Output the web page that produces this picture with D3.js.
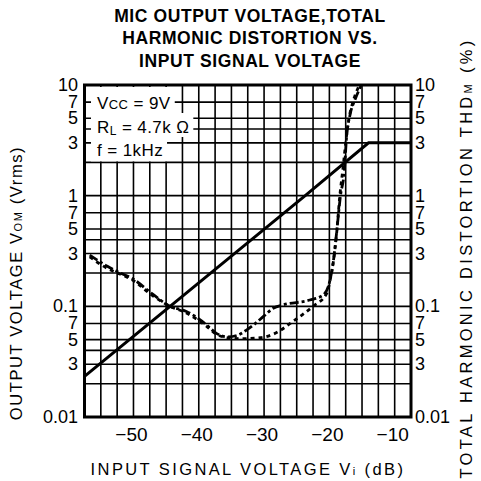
<!DOCTYPE html>
<html>
<head>
<meta charset="utf-8">
<script src="https://cdn.jsdelivr.net/npm/d3@7"></script>
<style>
  body { margin: 0; background: #fff; }
  text { font-family: "Liberation Sans", Arial, sans-serif; fill: #000; }
</style>
</head>
<body>
<div id="chart"></div>
<script>
// axis ticks and grid
const xTickValues = [-50, -40, -30, -20, -10];
const xGridValues = [-55, -52.5, -50, -47.5, -45, -42.5, -40, -37.5, -35, -32.5, -30, -27.5, -25, -22.5, -20, -17.5, -15, -12.5, -10];
const yTickValues = [10, 7, 5, 3, 1, 0.7, 0.5, 0.3, 0.1, 0.07, 0.05, 0.03, 0.01];
const yTickText = ["10", "7", "5", "3", "1", "7", "5", "3", "0.1", "7", "5", "3", "0.01"];
const yGridValues = [0.02, 0.03, 0.04, 0.05, 0.07, 0.1, 0.2, 0.3, 0.4, 0.5, 0.7, 1, 2, 3, 4, 5, 7];

// output voltage (solid)
const outVi = [-57.5, -44.4, -23.7, -14, -7.5];
const outV = [0.0233, 0.1, 1, 3, 3];

// THD curve A (dash-dot)
const thdAVi = [-56.7, -54, -52, -50.3, -47, -44.4, -41.9, -38.8, -37.3, -35.5, -34, -32.7, -31.6, -30, -28.6, -27.1, -23, -20.9, -19.9, -19.3, -18.9, -18.3, -17.7, -17.4, -16.8, -16.1, -15.1];
const thdA = [0.29, 0.23, 0.2, 0.18, 0.128, 0.1, 0.09, 0.068, 0.057, 0.053, 0.055, 0.061, 0.068, 0.082, 0.096, 0.103, 0.114, 0.127, 0.173, 0.28, 0.46, 1.0, 1.7, 3.2, 5.5, 7.3, 10];

// THD curve B (short dashes)
const thdBVi = [-56.7, -54, -52, -50.3, -47, -44.4, -41.9, -38.8, -37.3, -35.5, -33.7, -30.6, -28.6, -25.3, -22.5, -20.4, -19.9, -19.4, -18.9, -18.4, -17.9, -17.5, -17, -16.4, -15.4];
const thdB = [0.28, 0.22, 0.195, 0.175, 0.124, 0.1, 0.087, 0.066, 0.056, 0.052, 0.051, 0.052, 0.056, 0.075, 0.1, 0.131, 0.17, 0.25, 0.45, 1.0, 1.8, 3.0, 5.0, 7.0, 10];

const W = 481, H = 481;
const svg = d3.select("#chart").append("svg")
  .attr("width", W).attr("height", H);

const x = d3.scaleLinear().domain([-57.5, -7.5]).range([84.5, 411]);
const y = d3.scaleLog().domain([0.01, 10]).range([417, 85]);

// grid
svg.append("g").selectAll("line").data(xGridValues).join("line")
  .attr("x1", d => x(d)).attr("x2", d => x(d))
  .attr("y1", y(10)).attr("y2", y(0.01))
  .attr("stroke", "#000").attr("stroke-width", 1.6);
svg.append("g").selectAll("line").data(yGridValues).join("line")
  .attr("x1", x(-57.5)).attr("x2", x(-7.5))
  .attr("y1", d => y(d)).attr("y2", d => y(d))
  .attr("stroke", "#000").attr("stroke-width", 1.6);

// legend box (white block covering grid)
const legend = svg.append("g");
const legBg = legend.append("g");
const rows = [
  {y: 108.5, parts: [["V", 17, 0], ["CC", 13, 0], [" = 9V", 17, 0]]},
  {y: 132.5, parts: [["R", 17, 0], ["L", 12, 2], [" = 4.7k Ω", 17, -2]]},
  {y: 156, parts: [["f = 1kHz", 17, 0]]}
];
const rowTops = [y(10) + 2, 113, 137];
const rowBottoms = [113, 137, y(2) - 1];
rows.forEach((r, i) => {
  const t = legend.append("text").attr("x", 97).attr("y", r.y).attr("letter-spacing", 0.4);
  r.parts.forEach(p => t.append("tspan").attr("font-size", p[1]).attr("dy", p[2]).text(p[0]));
  const bb = t.node().getBBox();
  legBg.append("rect")
    .attr("x", 91).attr("y", rowTops[i])
    .attr("width", bb.x + bb.width + 4 - 91)
    .attr("height", rowBottoms[i] - rowTops[i])
    .attr("fill", "#fff");
});

// frame
svg.append("rect")
  .attr("x", x(-57.5)).attr("y", y(10))
  .attr("width", x(-7.5) - x(-57.5)).attr("height", y(0.01) - y(10))
  .attr("fill", "none").attr("stroke", "#000").attr("stroke-width", 3);

// series
const line = d3.line().x(d => x(d[0])).y(d => y(d[1]));
svg.append("path")
  .attr("d", line(d3.zip(outVi, outV)))
  .attr("fill", "none").attr("stroke", "#000").attr("stroke-width", 3);
svg.append("path")
  .attr("d", line.curve(d3.curveMonotoneX)(d3.zip(thdAVi, thdA)))
  .attr("fill", "none").attr("stroke", "#000").attr("stroke-width", 2.8)
  .attr("stroke-dasharray", "9,3,3,3");
svg.append("path")
  .attr("d", line.curve(d3.curveMonotoneX)(d3.zip(thdBVi, thdB)))
  .attr("fill", "none").attr("stroke", "#000").attr("stroke-width", 2.8)
  .attr("stroke-dasharray", "4,4");

// axis labels
svg.append("g").selectAll("text").data(yTickValues).join("text")
  .attr("x", 78).attr("y", d => y(d) + 6)
  .attr("text-anchor", "end").attr("font-size", 18)
  .text((d, i) => yTickText[i]);
svg.append("g").selectAll("text").data(yTickValues).join("text")
  .attr("x", 415).attr("y", d => y(d) + 6)
  .attr("text-anchor", "start").attr("font-size", 18)
  .text((d, i) => yTickText[i]);
svg.append("g").selectAll("text").data(xTickValues).join("text")
  .attr("x", d => x(d) - 2).attr("y", 441)
  .attr("text-anchor", "middle").attr("font-size", 19)
  .text(d => "\u2212" + Math.abs(d));

// titles
const title = ["MIC OUTPUT VOLTAGE,TOTAL", "HARMONIC DISTORTION VS.", "INPUT SIGNAL VOLTAGE"];
svg.append("g").selectAll("text").data(title).join("text")
  .attr("x", 250).attr("y", (d, i) => 22 + i * 22.3)
  .attr("text-anchor", "middle").attr("font-size", 17.5).attr("font-weight", "bold")
  .attr("letter-spacing", 0.6)
  .text(d => d);

const xt = svg.append("text").attr("x", 248).attr("y", 475)
  .attr("text-anchor", "middle").attr("font-size", 16.5).attr("letter-spacing", 2.4);
xt.append("tspan").text("INPUT  SIGNAL  VOLTAGE  V");
xt.append("tspan").attr("font-size", 11).text("i");
xt.append("tspan").text(" (dB)");

const lt = svg.append("text").attr("transform", "translate(22,283) rotate(-90)")
  .attr("text-anchor", "middle").attr("font-size", 16.5).attr("letter-spacing", 1.6);
lt.append("tspan").text("OUTPUT  VOLTAGE  V");
lt.append("tspan").attr("font-size", 11).text("OM");
lt.append("tspan").text("  (Vrms)");

const rt = svg.append("text").attr("transform", "translate(472,258) rotate(-90)")
  .attr("text-anchor", "middle").attr("font-size", 16.5).attr("letter-spacing", 3.3);
rt.append("tspan").text("TOTAL  HARMONIC  DISTORTION  THD");
rt.append("tspan").attr("font-size", 11).text("M");
rt.append("tspan").text("  (%)");
</script>
</body>
</html>
